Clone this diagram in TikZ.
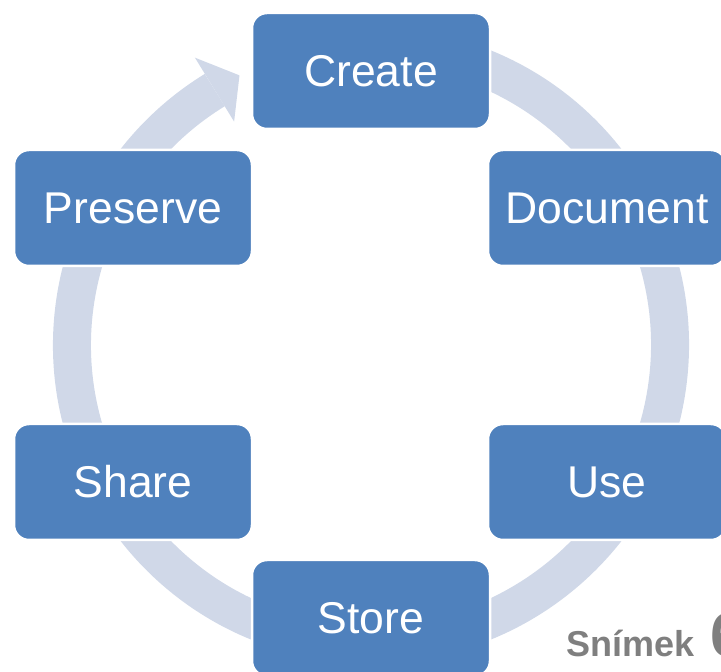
\documentclass[tikz,border=0pt]{standalone}
\usepackage{fontspec}
\setmainfont{Liberation Sans}
\usetikzlibrary{calc}
\begin{document}
\begin{tikzpicture}[x=1pt,y=1pt,
  stage/.style={draw=white, line width=2.5pt, fill=boxblue, rounded corners=15pt,
    minimum width=238pt, minimum height=116pt, inner sep=0pt,
    text=white, font=\fontsize{44.5}{50}\selectfont}
]
\definecolor{boxblue}{HTML}{4F81BD}
\definecolor{ringgray}{HTML}{D0D8E8}
\definecolor{labelgray}{HTML}{7F7F7F}
\useasboundingbox (0,0) rectangle (721,672);
\clip (0,0) rectangle (721,672);
\coordinate (C) at (371,327);
% ring with arrow
\draw[ringgray, line width=38pt] (C) ++(80:299) arc[start angle=80, end angle=-238.5, radius=299];
\fill[ringgray] ($(C)+(121.5:262)$) -- ($(C)+(121.5:337)$) -- ($(C)+(116:300)$) -- cycle;
% nodes
\node[stage] (create)   at (371,601) {Create};
\node[stage] (document) at (607,464) {Document};
\node[stage] (use)      at (607,190) {Use};
\node[stage] (store)    at (371,54)  {Store};
\node[stage] (share)    at (133,190) {Share};
\node[stage] (preserve) at (133,464) {Preserve};
% slide label
\node[anchor=base west, inner sep=0pt, text=labelgray, font=\bfseries\fontsize{36}{40}\selectfont] (snimek) at (566,15) {Snímek};
\node[anchor=base west, inner sep=0pt, text=labelgray, font=\bfseries\fontsize{62}{70}\selectfont] (num) at (710,15) {6};
\end{tikzpicture}
\end{document}
